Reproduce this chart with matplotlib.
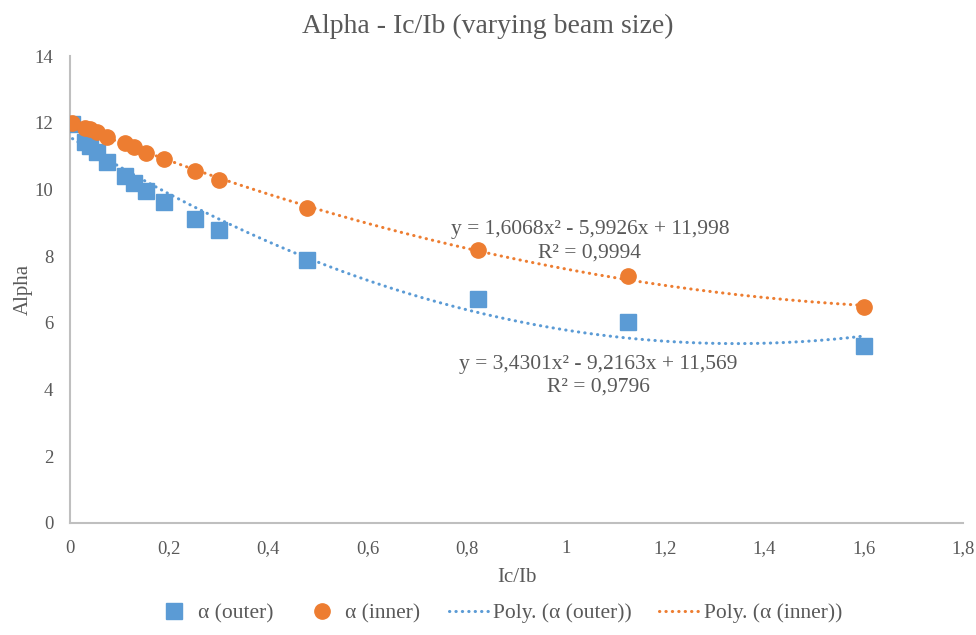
import numpy as np
import matplotlib
matplotlib.use("Agg")
import matplotlib.pyplot as plt

# Data
ic_ib = [0.005, 0.03, 0.04, 0.054, 0.075, 0.11, 0.129, 0.153, 0.19, 0.252, 0.30, 0.478, 0.823, 1.125, 1.60]
alpha_outer = [11.95, 11.43, 11.31, 11.13, 10.81, 10.40, 10.18, 9.95, 9.61, 9.11, 8.78, 7.87, 6.71, 6.03, 5.31]
alpha_inner = [11.98, 11.85, 11.80, 11.73, 11.58, 11.38, 11.26, 11.10, 10.90, 10.55, 10.28, 9.44, 8.18, 7.40, 6.47]
coef_outer = [3.4301, -9.2163, 11.569]
coef_inner = [1.6068, -5.9926, 11.998]
eq_outer = "y = 3,4301x² - 9,2163x + 11,569\nR² = 0,9796"
eq_inner = "y = 1,6068x² - 5,9926x + 11,998\nR² = 0,9994"
x_ticks = [0, 0.2, 0.4, 0.6, 0.8, 1.0, 1.2, 1.4, 1.6, 1.8]
x_tick_labels = ["0", "0,2", "0,4", "0,6", "0,8", "1", "1,2", "1,4", "1,6", "1,8"]
y_ticks = [0, 2, 4, 6, 8, 10, 12, 14]

BLUE = "#5B9BD5"
ORANGE = "#ED7D31"
GRAY = "#595959"
SPINE = "#BFBFBF"

plt.rcParams['font.family'] = ['Liberation Serif', 'DejaVu Serif']

fig = plt.figure(figsize=(9.76, 6.35), dpi=100)
ax = fig.add_axes([0.0717, 0.1764, 0.915, 0.7354])

xs = np.linspace(min(ic_ib), max(ic_ib), 300)
dots = (0, (0.1, 2.0))
l3, = ax.plot(xs, np.polyval(coef_outer, xs), color=BLUE, lw=2.2, linestyle=dots,
              dash_capstyle='round', label="Poly. (α (outer))", zorder=2)
l4, = ax.plot(xs, np.polyval(coef_inner, xs), color=ORANGE, lw=2.2, linestyle=dots,
              dash_capstyle='round', label="Poly. (α (inner))", zorder=2)
l1, = ax.plot(ic_ib, alpha_outer, linestyle='none', marker='s', markersize=11,
              color=BLUE, label="α (outer)", zorder=3)
l2, = ax.plot(ic_ib, alpha_inner, linestyle='none', marker='o', markersize=11,
              color=ORANGE, label="α (inner)", zorder=4)

ax.set_xlim(0, 1.8)
ax.set_ylim(0, 14)
ax.set_xticks(x_ticks)
ax.set_xticklabels(x_tick_labels)
ax.set_yticks(y_ticks)
ax.tick_params(axis='x', length=0, labelsize=13.5, colors=GRAY, pad=12)
ax.tick_params(axis='y', length=0, labelsize=13.5, colors=GRAY, pad=12)
for s in ['top', 'right']:
    ax.spines[s].set_visible(False)
for s in ['left', 'bottom']:
    ax.spines[s].set_color(SPINE)
    ax.spines[s].set_linewidth(1.5)

ax.set_xlabel("Ic/Ib", fontsize=15, color=GRAY, labelpad=8)
ax.set_ylabel("Alpha", fontsize=15, color=GRAY, labelpad=1)
fig.suptitle("Alpha - Ic/Ib (varying beam size)", fontsize=20, color=GRAY, y=0.978)

ax.text(1.048, 8.45, eq_inner, ha='center', va='center', fontsize=15.5, color=GRAY,
        linespacing=1.3)
ax.text(1.065, 4.41, eq_outer, ha='center', va='center', fontsize=15.5, color=GRAY,
        linespacing=1.3)

fig.legend(handles=[l1, l2, l3, l4], loc='lower center', ncol=4, frameon=False,
           bbox_to_anchor=(0.51, -0.012), fontsize=15.5, labelcolor=GRAY,
           handlelength=1.9, columnspacing=1.3, handletextpad=0.15)

fig.savefig("out.png", dpi=100)
